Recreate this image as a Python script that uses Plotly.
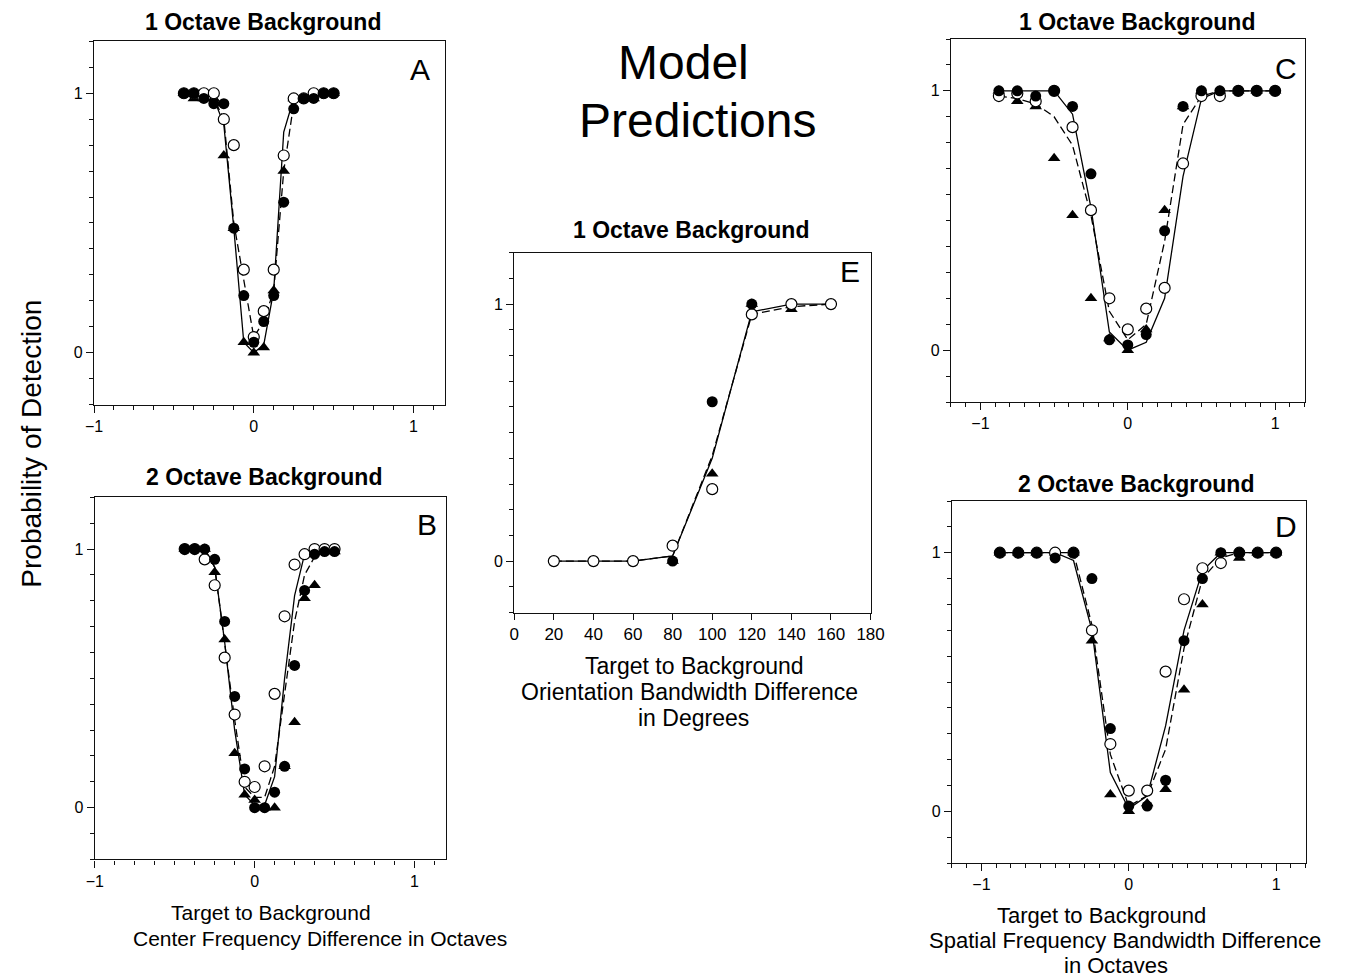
import plotly.graph_objects as go

W, H = 1352, 979
FONT = "Liberation Sans, Arial, Helvetica, sans-serif"

# ---------------- data ----------------
# Panels A and B: center frequency difference (octaves)
AB_x = [-0.4375, -0.375, -0.3125, -0.25, -0.1875, -0.125, -0.0625, 0.0,
        0.0625, 0.125, 0.1875, 0.25, 0.3125, 0.375, 0.4375, 0.5]

A_filled = [1.0, 1.0, 0.98, 0.96, 0.96, 0.48, 0.22, 0.04, 0.12, 0.22, 0.58, 0.94, 0.98, 0.98, 1.0, 1.0]
A_open   = [1.0, 1.0, 1.0, 1.0, 0.90, 0.80, 0.32, 0.06, 0.16, 0.32, 0.76, 0.98, 0.98, 1.0, 1.0, 1.0]
A_tri    = [1.0, 0.98, 0.98, 0.98, 0.76, 0.48, 0.04, 0.0, 0.02, 0.24, 0.70, 0.98, 0.98, 0.98, 1.0, 1.0]
A_solid  = [1.0, 1.0, 1.0, 0.98, 0.88, 0.48, 0.04, 0.0, 0.03, 0.24, 0.85, 0.98, 0.98, 0.99, 1.0, 1.0]
A_dashed = [1.0, 1.0, 1.0, 0.98, 0.90, 0.50, 0.28, 0.06, 0.12, 0.24, 0.70, 0.96, 0.98, 0.99, 1.0, 1.0]

B_filled = [1.0, 1.0, 1.0, 0.96, 0.72, 0.43, 0.15, 0.0, 0.0, 0.06, 0.16, 0.55, 0.84, 0.98, 0.99, 0.99]
B_open   = [1.0, 1.0, 0.96, 0.86, 0.58, 0.36, 0.10, 0.08, 0.16, 0.44, 0.74, 0.94, 0.98, 1.0, 1.0, 1.0]
B_tri    = [1.0, 1.0, 1.0, 0.91, 0.65, 0.21, 0.05, 0.03, 0.0, 0.0, 0.16, 0.33, 0.81, 0.86, 0.99, 0.99]
B_solid  = [1.0, 1.0, 1.0, 0.93, 0.64, 0.30, 0.05, 0.01, 0.01, 0.12, 0.50, 0.82, 0.98, 1.0, 1.0, 1.0]
B_dashed = [1.0, 1.0, 1.0, 0.93, 0.64, 0.34, 0.08, 0.04, 0.04, 0.16, 0.44, 0.72, 0.90, 0.97, 0.99, 1.0]

# Panels C and D: spatial frequency bandwidth difference (octaves)
CD_x = [-0.875, -0.75, -0.625, -0.5, -0.375, -0.25, -0.125, 0.0,
        0.125, 0.25, 0.375, 0.5, 0.625, 0.75, 0.875, 1.0]

C_filled = [1.0, 1.0, 0.98, 1.0, 0.94, 0.68, 0.04, 0.02, 0.06, 0.46, 0.94, 1.0, 1.0, 1.0, 1.0, 1.0]
C_open   = [0.98, 0.99, 0.96, 1.0, 0.86, 0.54, 0.20, 0.08, 0.16, 0.24, 0.72, 0.98, 0.98, 1.0, 1.0, 1.0]
C_tri    = [1.0, 0.96, 0.94, 0.74, 0.52, 0.20, 0.045, 0.0, 0.08, 0.54, 0.94, 1.0, 1.0, 1.0, 1.0, 1.0]
C_solid  = [1.0, 1.0, 1.0, 1.0, 0.91, 0.55, 0.07, 0.0, 0.03, 0.20, 0.67, 0.97, 1.0, 1.0, 1.0, 1.0]
C_dashed = [0.98, 0.97, 0.95, 0.90, 0.79, 0.52, 0.15, 0.04, 0.10, 0.42, 0.87, 0.98, 1.0, 1.0, 1.0, 1.0]

D_filled = [1.0, 1.0, 1.0, 0.98, 1.0, 0.90, 0.32, 0.02, 0.02, 0.12, 0.66, 0.90, 1.0, 1.0, 1.0, 1.0]
D_open   = [1.0, 1.0, 1.0, 1.0, 1.0, 0.70, 0.26, 0.08, 0.08, 0.54, 0.82, 0.94, 0.96, 1.0, 1.0, 1.0]
D_tri    = [1.0, 1.0, 1.0, 1.0, 1.0, 0.66, 0.065, 0.0, 0.03, 0.085, 0.47, 0.80, 1.0, 0.98, 1.0, 1.0]
D_solid  = [1.0, 1.0, 1.0, 1.0, 0.97, 0.70, 0.15, 0.01, 0.06, 0.33, 0.70, 0.93, 1.0, 1.0, 1.0, 1.0]
D_dashed = [1.0, 1.0, 1.0, 1.0, 1.0, 0.72, 0.22, 0.02, 0.06, 0.24, 0.63, 0.90, 0.98, 1.0, 1.0, 1.0]

# Panel E: orientation bandwidth difference (degrees)
E_x      = [20, 40, 60, 80, 100, 120, 140, 160]
E_filled = [None, None, None, 0.0, 0.62, 1.0, None, None]
E_open   = [0.0, 0.0, 0.0, 0.06, 0.28, 0.96, 1.0, 1.0]
E_tri    = [None, None, None, 0.0, 0.34, 1.0, 0.98, None]
E_solid  = [0.0, 0.0, 0.0, 0.02, 0.40, 0.97, 1.0, 1.0]
E_dashed = [0.0, 0.0, 0.0, 0.02, 0.41, 0.96, 0.99, 1.0]

# ---------------- layout helpers ----------------
def px_dom(x0, x1, y0, y1):
    return [x0 / W, x1 / W], [1 - y1 / H, 1 - y0 / H]

panels = {
    "A": dict(frame=(86.5, 444.0, 41.4, 404.5), xr=[-1, 1.2], minor=0.125, x=AB_x,
              data=(A_filled, A_open, A_tri, A_solid, A_dashed)),
    "B": dict(frame=(87.3, 445.0, 497.3, 859.4), xr=[-1, 1.2], minor=0.125, x=AB_x,
              data=(B_filled, B_open, B_tri, B_solid, B_dashed)),
    "C": dict(frame=(958.3, 1318.0, 39.0, 402.0), xr=[-1.2, 1.2], minor=0.1, x=CD_x,
              data=(C_filled, C_open, C_tri, C_solid, C_dashed)),
    "D": dict(frame=(959.3, 1319.0, 501.0, 863.0), xr=[-1.2, 1.2], minor=0.1, x=CD_x,
              data=(D_filled, D_open, D_tri, D_solid, D_dashed)),
    "E": dict(frame=(514.0, 876.5, 252.7, 612.5), xr=[0, 180], minor=None, x=E_x,
              data=(E_filled, E_open, E_tri, E_solid, E_dashed)),
}

fig = go.Figure()
layout = {}
for i, (name, p) in enumerate(panels.items(), start=1):
    xa = "x" if i == 1 else f"x{i}"
    ya = "y" if i == 1 else f"y{i}"
    xd, yd = px_dom(*p["frame"])
    xkey = "xaxis" if i == 1 else f"xaxis{i}"
    ykey = "yaxis" if i == 1 else f"yaxis{i}"
    xaxis = dict(domain=xd, range=p["xr"], anchor=ya, showgrid=False, zeroline=False,
                 showline=True, mirror=True, linecolor="#111111", linewidth=1.2,
                 ticks="outside", tickcolor="#111111", tickwidth=1.2,
                 tickfont=dict(family=FONT, size=16, color="black"))
    if name == "E":
        xaxis.update(tick0=0, dtick=20, ticklen=6, tickfont=dict(family=FONT, size=17, color="black"))
    else:
        xaxis.update(tick0=0, dtick=1, ticklen=7,
                     minor=dict(tick0=0, dtick=p["minor"], ticks="outside", ticklen=4,
                                tickcolor="#111111", tickwidth=1.2, showgrid=False))
    yaxis = dict(domain=yd, range=[-0.2, 1.2], anchor=xa, showgrid=False, zeroline=False,
                 showline=True, mirror=True, linecolor="#111111", linewidth=1.2,
                 ticks="outside", tickcolor="#111111", tickwidth=1.2, ticklen=7,
                 tick0=0, dtick=1,
                 minor=dict(tick0=0, dtick=0.1, ticks="outside", ticklen=4,
                            tickcolor="#111111", tickwidth=1.2, showgrid=False),
                 tickfont=dict(family=FONT, size=16, color="black"))
    layout[xkey] = xaxis
    layout[ykey] = yaxis

    filled, opn, tri, solid, dashed = p["data"]
    x = p["x"]
    fig.add_trace(go.Scatter(x=x, y=dashed, mode="lines", xaxis=xa, yaxis=ya,
                             line=dict(color="black", width=1.3, dash="8px,4px"), showlegend=False))
    fig.add_trace(go.Scatter(x=x, y=solid, mode="lines", xaxis=xa, yaxis=ya,
                             line=dict(color="black", width=1.3), showlegend=False))
    fig.add_trace(go.Scatter(x=x, y=tri, mode="markers", xaxis=xa, yaxis=ya,
                             marker=dict(symbol="triangle-up", size=11, color="black"), showlegend=False))
    fig.add_trace(go.Scatter(x=x, y=opn, mode="markers", xaxis=xa, yaxis=ya,
                             marker=dict(symbol="circle", size=11, color="white",
                                         line=dict(color="black", width=1.2)), showlegend=False))
    fig.add_trace(go.Scatter(x=x, y=filled, mode="markers", xaxis=xa, yaxis=ya,
                             marker=dict(symbol="circle", size=11, color="black",
                                         line=dict(color="black", width=0)), showlegend=False))

def ann(text, x, y, size, bold=False, angle=0, xanchor="center"):
    t = f"<b>{text}</b>" if bold else text
    return dict(text=t, x=x / W, y=1 - y / H, xref="paper", yref="paper",
                showarrow=False, xanchor=xanchor, yanchor="middle", textangle=angle,
                font=dict(family=FONT, size=size, color="black"))

annotations = [
    ann("1 Octave Background", 258, 22, 23, bold=True),
    ann("2 Octave Background", 259, 477, 23, bold=True),
    ann("1 Octave Background", 694, 230, 23, bold=True),
    ann("1 Octave Background", 1148, 22, 23, bold=True),
    ann("2 Octave Background", 1147, 484, 23, bold=True),
    ann("Model", 686, 62, 48),
    ann("Predictions", 700, 120, 48),
    ann("A", 418, 70, 30),
    ann("B", 425, 524, 30),
    ann("C", 1299, 68, 30),
    ann("D", 1299, 526, 30),
    ann("E", 856, 271, 30),
    ann("Probability of Detection", 22, 444, 28, angle=-90),
    ann("Target to Background", 267, 912, 21),
    ann("Center Frequency Difference in Octaves", 316, 938, 21),
    ann("Target to Background", 697, 666, 23),
    ann("Orientation Bandwidth Difference", 692, 692, 23),
    ann("in Degrees", 696, 718, 23),
    ann("Target to Background", 1111, 915, 22),
    ann("Spatial Frequency Bandwidth Difference", 1135, 940, 22),
    ann("in Octaves", 1126, 965, 22),
]

fig.update_layout(width=W, height=H, margin=dict(l=0, r=0, t=0, b=0),
                  paper_bgcolor="white", plot_bgcolor="white",
                  annotations=annotations, **layout)

fig.write_html("out.html")
